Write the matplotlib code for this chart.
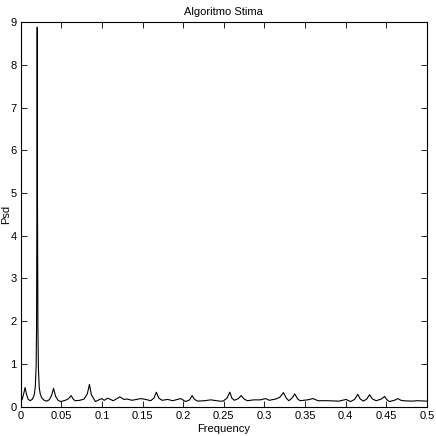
import matplotlib
matplotlib.use("Agg")
import matplotlib.pyplot as plt

freq = [0.0, 0.002, 0.004, 0.0054, 0.007, 0.009, 0.0115, 0.014, 0.016, 0.017, 0.018, 0.019,
        0.0195, 0.0200, 0.0203, 0.0206, 0.0212, 0.0218, 0.0228, 0.024, 0.026, 0.029, 0.032,
        0.035, 0.038, 0.0404, 0.043, 0.046, 0.049, 0.055, 0.059, 0.062, 0.065, 0.067, 0.073,
        0.078, 0.082, 0.0846, 0.087, 0.092, 0.0994, 0.103, 0.107, 0.114, 0.122, 0.127, 0.131,
        0.137, 0.148, 0.154, 0.160, 0.164, 0.167, 0.170, 0.174, 0.181, 0.187, 0.197, 0.203,
        0.208, 0.211, 0.214, 0.218, 0.226, 0.234, 0.245, 0.249, 0.254, 0.2574, 0.260, 0.263,
        0.268, 0.2714, 0.275, 0.279, 0.287, 0.295, 0.3015, 0.306, 0.314, 0.319, 0.3234, 0.327,
        0.330, 0.334, 0.3374, 0.341, 0.344, 0.353, 0.360, 0.366, 0.378, 0.392, 0.4005, 0.406,
        0.411, 0.415, 0.418, 0.422, 0.426, 0.4295, 0.433, 0.4377, 0.444, 0.448, 0.451, 0.454,
        0.460, 0.4645, 0.468, 0.471, 0.481, 0.4885, 0.5]
psd = [0.12, 0.18, 0.33, 0.45, 0.30, 0.18, 0.14, 0.17, 0.24, 0.32, 0.48, 0.95,
       1.8, 5.0, 8.88, 5.0, 1.8, 0.9, 0.45, 0.30, 0.20, 0.15, 0.13,
       0.16, 0.26, 0.43, 0.24, 0.15, 0.12, 0.15, 0.19, 0.26, 0.17, 0.14, 0.15,
       0.18, 0.30, 0.52, 0.28, 0.12, 0.19, 0.15, 0.20, 0.14, 0.23, 0.17, 0.18,
       0.15, 0.19, 0.17, 0.14, 0.20, 0.34, 0.20, 0.15, 0.17, 0.14, 0.19, 0.12,
       0.16, 0.26, 0.17, 0.13, 0.14, 0.16, 0.13, 0.13, 0.20, 0.34, 0.20, 0.15,
       0.19, 0.26, 0.18, 0.14, 0.16, 0.16, 0.19, 0.15, 0.18, 0.22, 0.33, 0.20,
       0.14, 0.20, 0.30, 0.18, 0.14, 0.16, 0.19, 0.14, 0.14, 0.13, 0.17, 0.12,
       0.17, 0.29, 0.18, 0.13, 0.18, 0.28, 0.18, 0.14, 0.18, 0.24, 0.16, 0.12,
       0.15, 0.19, 0.15, 0.14, 0.13, 0.14, 0.13]

xticks = [0, 0.05, 0.1, 0.15, 0.2, 0.25, 0.3, 0.35, 0.4, 0.45, 0.5]
xticklabels = ["0", "0.05", "0.1", "0.15", "0.2", "0.25", "0.3", "0.35", "0.4", "0.45", "0.5"]
yticks = list(range(0, 10))

plt.rcParams['font.family'] = ['Liberation Sans Narrow', 'Liberation Sans', 'DejaVu Sans']

fs = 8
fig = plt.figure(figsize=(4.36, 4.36), dpi=100)
ax = fig.add_axes([0.0475, 0.0672, 0.9315, 0.8823])
ax.plot(freq, psd, color='black', linewidth=0.8)
ax.set_xlim(0, 0.5)
ax.set_ylim(0, 9)
ax.set_xticks(xticks)
ax.set_xticklabels(xticklabels)
ax.set_yticks(yticks)
ax.tick_params(direction='in', length=4, width=0.6, labelsize=fs, top=True, right=True, pad=3)
for s in ax.spines.values():
    s.set_linewidth(0.8)
ax.set_xlabel("Frequency", fontsize=fs, labelpad=2)
ax.set_ylabel("Psd", fontsize=fs)
ax.yaxis.set_label_coords(-0.036, 0.5)
ax.yaxis.label.set_va('center')
ax.set_title("Algoritmo Stima", fontsize=fs, pad=5)
fig.savefig("out.png", dpi=100)
